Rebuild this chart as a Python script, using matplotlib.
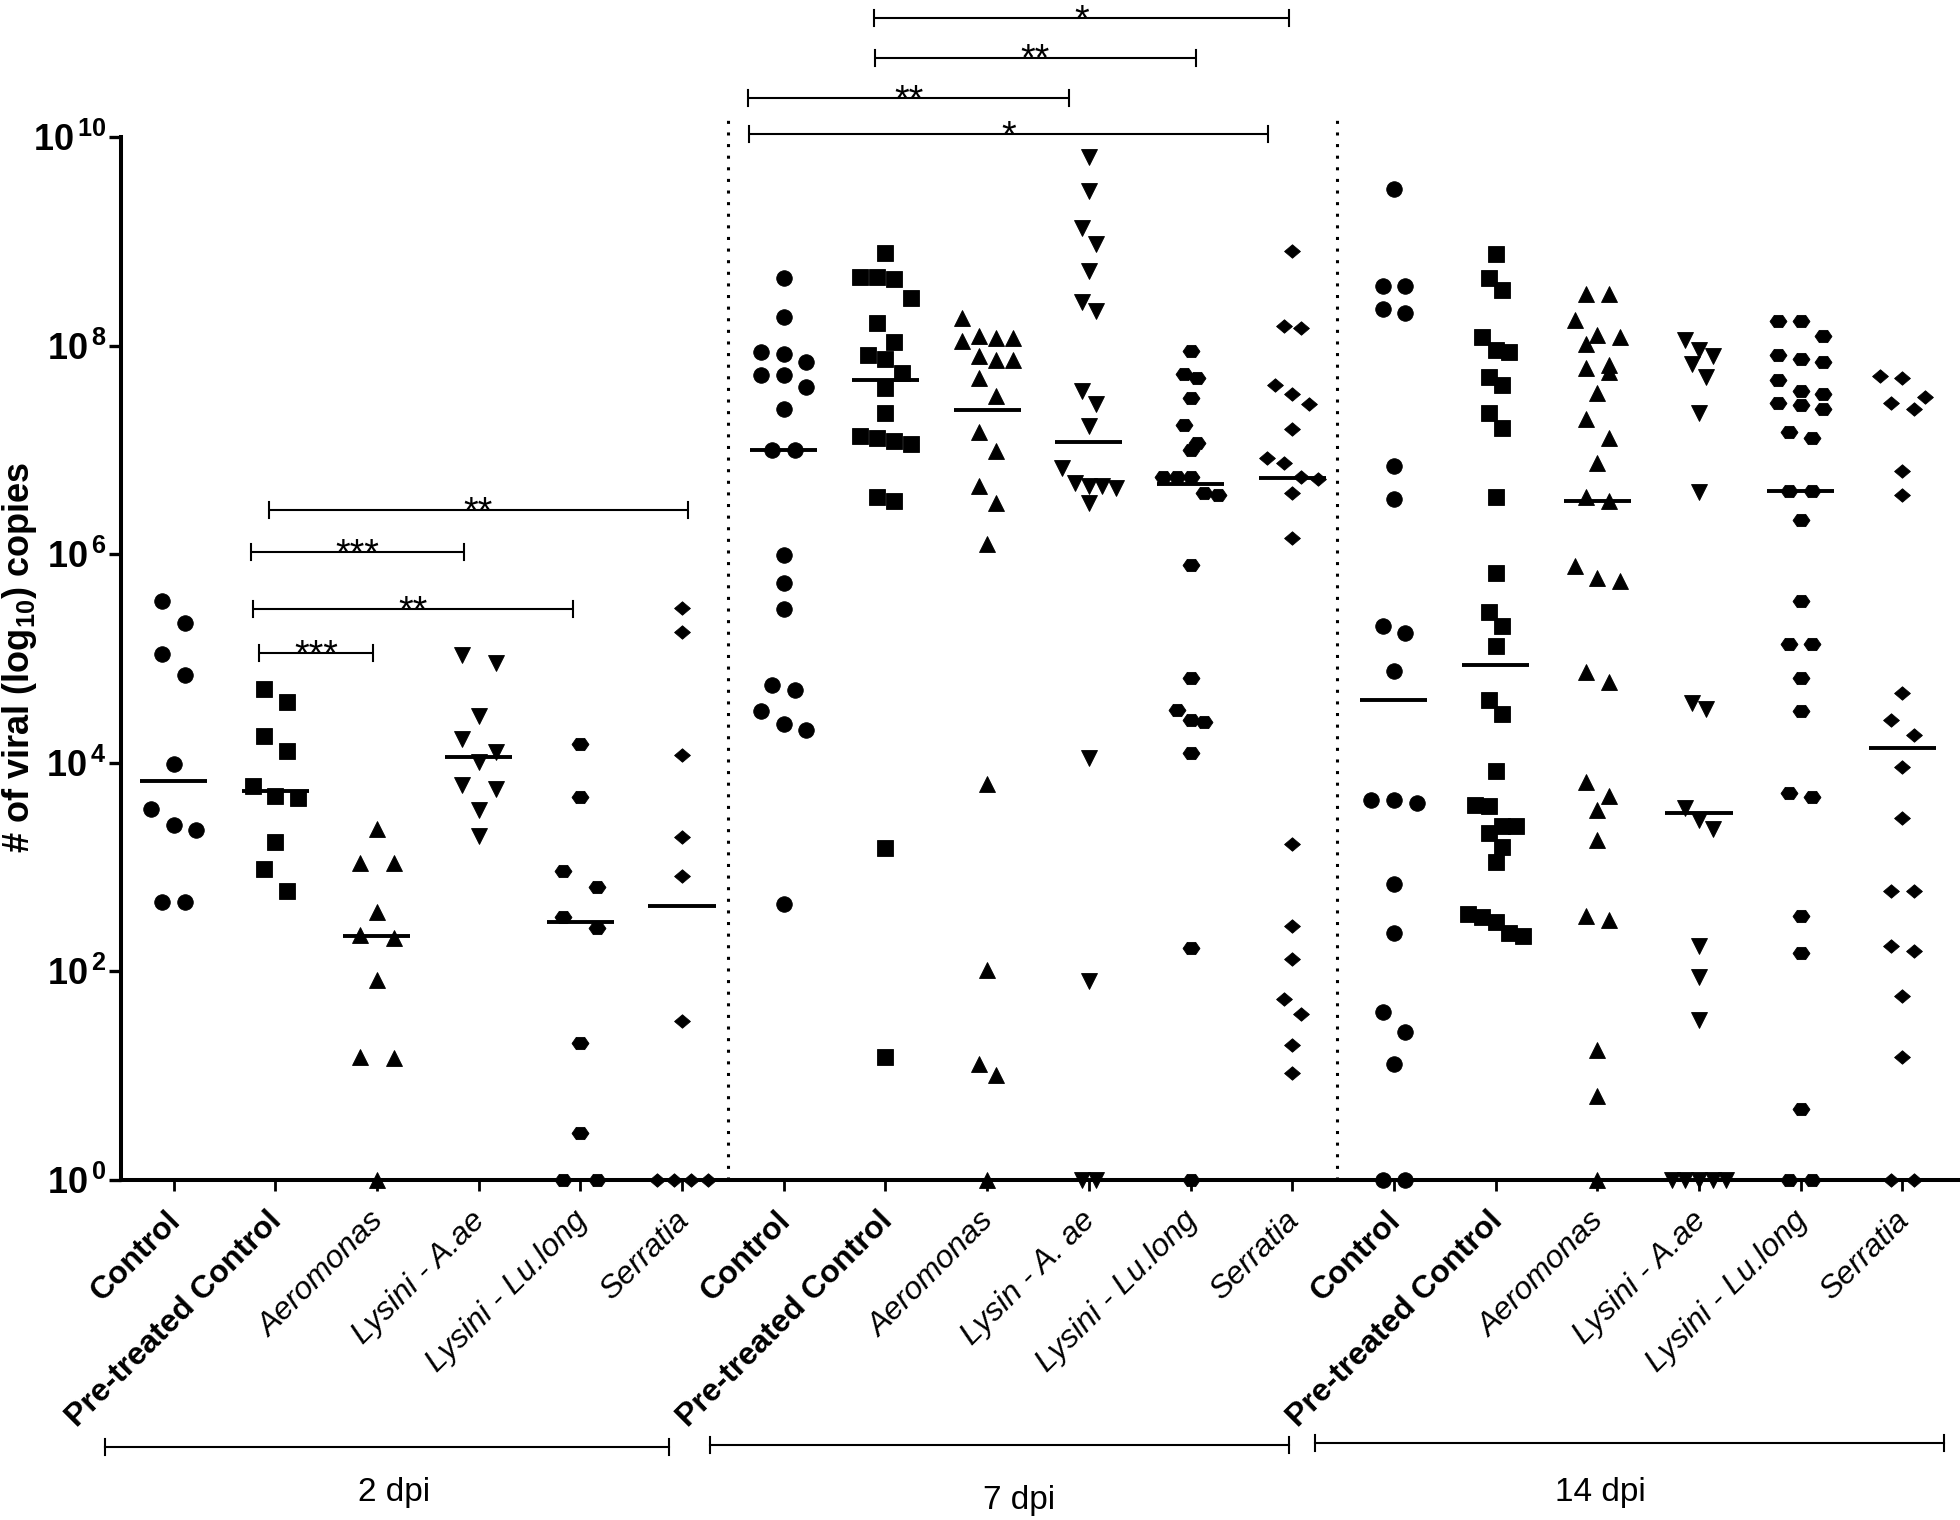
import numpy as np
import matplotlib
matplotlib.use("Agg")
import matplotlib.pyplot as plt
import matplotlib.transforms as mtransforms
from matplotlib.path import Path
from matplotlib.ticker import NullLocator

# ------------------------------------------------------------------ data
timepoints = ["2 dpi", "7 dpi", "14 dpi"]
labels_2dpi = ["Control", "Pre-treated Control", "Aeromonas",
               "Lysini - A.ae", "Lysini - Lu.long", "Serratia"]
labels_7dpi = ["Control", "Pre-treated Control", "Aeromonas",
               "Lysin - A. ae", "Lysini - Lu.long", "Serratia"]
labels_14dpi = ["Control", "Pre-treated Control", "Aeromonas",
                "Lysini - A.ae", "Lysini - Lu.long", "Serratia"]
bold_labels = ["Control", "Pre-treated Control"]

# log10(viral copies); 0 -> point drawn on the 10^0 axis line
log_2dpi_control = [5.55, 5.34, 5.04, 4.84, 3.99, 3.56, 3.40, 3.36, 2.67, 2.67]
log_2dpi_pretreated = [4.71, 4.58, 4.26, 4.11, 3.78, 3.68, 3.66, 3.24, 2.98, 2.77]
log_2dpi_aeromonas = [3.37, 3.04, 3.04, 2.57, 2.35, 2.32, 1.92, 1.18, 1.17, 0.0]
log_2dpi_lysini_aae = [5.03, 4.96, 4.45, 4.23, 4.10, 4.01, 3.79, 3.75, 3.55, 3.30]
log_2dpi_lysini_lulong = [4.18, 3.67, 2.96, 2.81, 2.52, 2.42, 1.31, 0.45, 0.0, 0.0]
log_2dpi_serratia = [5.48, 5.25, 4.07, 3.29, 2.91, 1.52, 0.0, 0.0, 0.0, 0.0]

log_7dpi_control = [8.65, 8.27, 7.94, 7.92, 7.84, 7.72, 7.72, 7.60, 7.39, 7.00,
                    7.00, 5.99, 5.72, 5.47, 4.75, 4.70, 4.50, 4.37, 4.31, 2.65]
log_7dpi_pretreated = [8.89, 8.66, 8.66, 8.64, 8.46, 8.22, 8.03, 7.91, 7.87, 7.74,
                       7.59, 7.35, 7.13, 7.11, 7.09, 7.06, 6.55, 6.51, 3.18, 1.18]
log_7dpi_aeromonas = [8.26, 8.09, 8.07, 8.07, 8.04, 7.90, 7.86, 7.86, 7.69, 7.52,
                      7.17, 6.99, 6.65, 6.49, 6.10, 3.80, 2.01, 1.11, 1.01, 0.0]
log_7dpi_lysin_aae = [9.81, 9.48, 9.13, 8.97, 8.72, 8.42, 8.33, 7.56, 7.44, 7.23,
                      6.83, 6.68, 6.65, 6.65, 6.63, 6.49, 4.05, 1.91, 0.0, 0.0]
log_7dpi_lysini_lulong = [7.95, 7.73, 7.69, 7.50, 7.24, 7.07, 7.00, 6.74, 6.74, 6.74,
                          6.59, 6.57, 5.90, 4.81, 4.51, 4.41, 4.39, 4.09, 2.22, 0.0]
log_7dpi_serratia = [8.91, 8.19, 8.17, 7.62, 7.54, 7.44, 7.20, 6.92, 6.87, 6.74,
                     6.72, 6.59, 6.16, 3.22, 2.44, 2.12, 1.74, 1.59, 1.29, 1.03]

log_14dpi_control = [9.50, 8.57, 8.57, 8.35, 8.31, 6.85, 6.53, 5.31, 5.24, 4.88,
                     3.64, 3.64, 3.61, 2.84, 2.37, 1.61, 1.42, 1.11, 0.0, 0.0]
log_14dpi_pretreated = [8.88, 8.65, 8.53, 8.08, 7.96, 7.94, 7.70, 7.62, 7.35, 7.21,
                        6.55, 5.82, 5.45, 5.31, 5.12, 4.60, 4.47, 3.92, 3.60, 3.59,
                        3.39, 3.39, 3.33, 3.19, 3.05, 2.55, 2.52, 2.47, 2.37, 2.34]
log_14dpi_aeromonas = [8.49, 8.49, 8.25, 8.10, 8.08, 8.02, 7.81, 7.79, 7.75, 7.55,
                       7.30, 7.11, 6.87, 6.55, 6.51, 5.89, 5.77, 5.74, 4.87, 4.77,
                       3.82, 3.68, 3.55, 3.26, 2.53, 2.49, 1.25, 0.81, 0.0]
log_14dpi_lysini_aae = [8.05, 7.96, 7.90, 7.82, 7.70, 7.35, 6.60, 4.57, 4.52, 3.57,
                        3.45, 3.37, 2.24, 1.95, 1.53, 0.0, 0.0, 0.0, 0.0, 0.0]
log_14dpi_lysini_lulong = [8.24, 8.24, 8.09, 7.91, 7.87, 7.84, 7.67, 7.56, 7.54, 7.45,
                           7.43, 7.39, 7.17, 7.11, 6.61, 6.61, 6.33, 5.55, 5.14, 5.14,
                           4.81, 4.50, 3.71, 3.67, 2.53, 2.18, 0.68, 0.0, 0.0]
log_14dpi_serratia = [7.71, 7.69, 7.51, 7.45, 7.39, 6.80, 6.57, 4.67, 4.41, 4.27,
                      3.96, 3.47, 2.77, 2.77, 2.24, 2.20, 1.76, 1.18, 0.0, 0.0]

ytick_exponents = [0, 2, 4, 6, 8, 10]

# significance annotation texts
sig_texts = ["**", "***", "**", "***", "*", "**", "**", "*"]

# ------------------------------------------------------------------ layout
groups = [log_2dpi_control, log_2dpi_pretreated, log_2dpi_aeromonas,
          log_2dpi_lysini_aae, log_2dpi_lysini_lulong, log_2dpi_serratia,
          log_7dpi_control, log_7dpi_pretreated, log_7dpi_aeromonas,
          log_7dpi_lysin_aae, log_7dpi_lysini_lulong, log_7dpi_serratia,
          log_14dpi_control, log_14dpi_pretreated, log_14dpi_aeromonas,
          log_14dpi_lysini_aae, log_14dpi_lysini_lulong, log_14dpi_serratia]
all_labels = labels_2dpi + labels_7dpi + labels_14dpi

plt.rcParams['font.family'] = ['Liberation Sans', 'DejaVu Sans']
plt.rcParams['mathtext.fontset'] = 'custom'
plt.rcParams['mathtext.rm'] = 'Liberation Sans'
plt.rcParams['mathtext.bf'] = 'Liberation Sans:bold'
plt.rcParams['mathtext.it'] = 'Liberation Sans:italic'

FIG_W, FIG_H = 1960, 1520
X0, DX = 173.5, 101.7          # pixel x of first group, pixel spacing
AX_L, AX_R, AX_T, AX_B = 121, 1957.5, 137, 1180
PX_PER_DEC = (AX_B - AX_T) / 10.0

fig = plt.figure(figsize=(FIG_W / 100, FIG_H / 100), dpi=100)
ax = fig.add_axes([AX_L / FIG_W, 1 - AX_B / FIG_H,
                   (AX_R - AX_L) / FIG_W, (AX_B - AX_T) / FIG_H])

hex_marker = Path([(1, 0), (0.5, 0.72), (-0.5, 0.72), (-1, 0),
                   (-0.5, -0.72), (0.5, -0.72), (1, 0)], closed=True)
dia_marker = Path([(1, 0), (0, 0.85), (-1, 0), (0, -0.85), (1, 0)], closed=True)
marker_cycle = [('o', 11.2), ('s', 11.0), ('^', 11.6), ('v', 11.6),
                (hex_marker, 12.2), (dia_marker, 11.4)]


def swarm_offsets(logvals, row_h=0.212, width_px=68.0, max_sp=34.0):
    v = np.asarray(logvals, float)
    order = np.argsort(-v, kind='stable')
    rows, cur, start = [], [order[0]], v[order[0]]
    for idx in order[1:]:
        if start - v[idx] <= row_h:
            cur.append(idx)
        else:
            rows.append(cur)
            cur, start = [idx], v[idx]
    rows.append(cur)
    nmax = max(len(r) for r in rows)
    sp = min(max_sp, width_px / nmax) if nmax > 1 else max_sp
    off = np.zeros(len(v))
    for r in rows:
        n = len(r)
        for k, idx in enumerate(r):
            off[idx] = (k - (n - 1) / 2.0) * sp
    return off


for gi, vals in enumerate(groups):
    v = np.asarray(vals, float)
    xs = gi + swarm_offsets(v) / DX
    mk, ms = marker_cycle[gi % 6]
    ax.plot(xs, 10 ** v, linestyle='none', marker=mk, ms=ms, color='black',
            mec='black', mew=0.6, clip_on=False, zorder=3)
    med = np.median(10 ** v)
    ax.plot([gi - 0.33, gi + 0.33], [med, med], color='black', lw=2.8,
            solid_capstyle='butt', zorder=4, clip_on=False)

# dotted separators
for xd in [5.457, 11.44]:
    ax.plot([xd, xd], [1, 10 ** 10.24], color='black', lw=2.2,
            linestyle=(0, (1, 2.8)), clip_on=False, zorder=2)

# significance brackets (x from, x to, bracket height in log10 units)
sig_spans = [(0.936, 5.056, 6.42), (0.758, 2.857, 6.02), (0.782, 3.931, 5.47),
             (0.840, 1.961, 5.05), (6.89, 10.97, 11.14), (6.90, 10.05, 10.76),
             (5.65, 8.81, 10.37), (5.66, 10.76, 10.03)]
tick_f = 10 ** (8 / PX_PER_DEC)
for (x1, x2, yl), txt in zip(sig_spans, sig_texts):
    y = 10 ** yl
    ax.plot([x1, x2], [y, y], color='black', lw=1.5, clip_on=False,
            solid_capstyle='butt')
    for xx in (x1, x2):
        ax.plot([xx, xx], [y / tick_f, y * tick_f], color='black', lw=1.5,
                clip_on=False)
    ax.text((x1 + x2) / 2, y * 10 ** (-13 / PX_PER_DEC), txt, ha='center',
            va='baseline', fontsize=27, clip_on=False)

# axes styling
ax.set_yscale('log')
ax.set_ylim(1, 1e10)
ax.set_xlim((AX_L - X0) / DX, (AX_R - X0) / DX)
ax.yaxis.set_minor_locator(NullLocator())
ax.set_yticks([10.0 ** e for e in ytick_exponents])
ax.set_yticklabels([r'$\mathbf{10}^{\,\mathbf{%d}}$' % e for e in ytick_exponents])
ax.set_xticks(range(len(groups)))
ax.set_xticklabels([])
ax.tick_params(axis='y', direction='out', length=8.5, width=2.4, pad=2,
               labelsize=26)
ax.tick_params(axis='x', direction='out', length=8, width=2)
for s in ['top', 'right']:
    ax.spines[s].set_visible(False)
for s in ['left', 'bottom']:
    ax.spines[s].set_linewidth(2.9)

# category labels
xt = ax.get_xaxis_transform()
y_lab = (AX_B - 1222) / (AX_B - AX_T)
for gi, lab in enumerate(all_labels):
    is_bold = lab in bold_labels
    ax.text(gi + 8 / DX, y_lab, lab, transform=xt, rotation=45,
            rotation_mode='anchor', ha='right', va='baseline', fontsize=23,
            fontweight='bold' if is_bold else 'normal',
            fontstyle='normal' if is_bold else 'italic', clip_on=False)

# y label
fig.text(20 / FIG_W, 1 - 657 / FIG_H, r'# of viral (log$_{\mathbf{10}}$) copies',
         rotation=90, ha='center', va='center', fontsize=26, fontweight='bold')

# time point brackets
tf = mtransforms.blended_transform_factory(ax.transData, fig.transFigure)
tp_spans = [(-0.675, 4.87, 1447), (5.28, 10.97, 1445), (11.22, 17.41, 1443)]
tp_text_pos = [(2.17, 1492), (8.31, 1500), (14.03, 1492)]
for (x1, x2, ypx), (xt_, ytp), name in zip(tp_spans, tp_text_pos, timepoints):
    yf = 1 - ypx / FIG_H
    dy = 8 / FIG_H
    ax.plot([x1, x2], [yf, yf], color='black', lw=1.5, transform=tf, clip_on=False)
    for xx in (x1, x2):
        ax.plot([xx, xx], [yf - dy, yf + dy], color='black', lw=1.5,
                transform=tf, clip_on=False)
    ax.text(xt_, 1 - ytp / FIG_H, name, transform=tf, ha='center', va='center',
            fontsize=24)

ax.set_xlim((AX_L - X0) / DX, (AX_R - X0) / DX)
ax.set_ylim(1, 1e10)

fig.savefig('out.png', dpi=100)
